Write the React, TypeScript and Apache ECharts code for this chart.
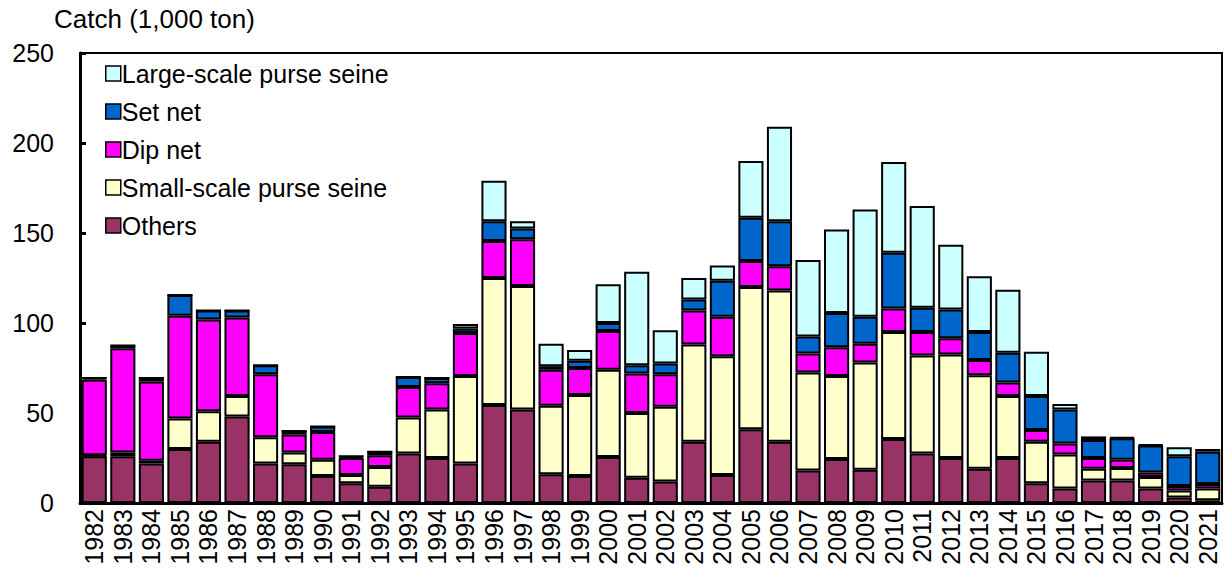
import React, { useEffect, useRef } from "react";
import * as echarts from "echarts";

const years = [
  "1982","1983","1984","1985","1986","1987","1988","1989","1990","1991",
  "1992","1993","1994","1995","1996","1997","1998","1999","2000","2001",
  "2002","2003","2004","2005","2006","2007","2008","2009","2010","2011",
  "2012","2013","2014","2015","2016","2017","2018","2019","2020","2021",
];

const others = [26, 26, 22, 30, 34, 48, 22, 21.5, 15, 11, 9, 27.5, 25, 22, 54.5, 52, 16, 15, 25.5, 14, 12, 34, 15.5, 41, 34, 18, 24.5, 18.5, 35.5, 27.5, 25, 19, 25, 11, 8, 12.5, 12.5, 8, 3, 1.5];
const smallScale = [0.5, 2, 1.5, 17, 17, 11.5, 14.5, 6.5, 9, 4.5, 11, 20, 27, 48.5, 70.5, 68.5, 38, 45, 48.5, 36, 41.5, 54, 66, 79, 84, 54.5, 46, 59.5, 59.5, 54.5, 57.5, 52, 34.5, 23, 19, 6.5, 7, 6.5, 4, 6.5];
const dipNet = [42, 58, 44, 57, 51, 43.5, 35, 10, 15.5, 9.5, 6.5, 17, 14.5, 24, 20.5, 26, 20, 15, 21.5, 22, 18, 19, 22, 14.5, 13.5, 10.5, 16, 10.5, 13, 13, 9, 8.5, 7.5, 6.5, 6, 6, 4.5, 2.5, 2.5, 2.5];
const setNet = [1, 1.5, 2, 11.5, 5, 4, 5, 2, 3, 1, 2, 5.5, 3, 2.5, 11, 6, 2, 4, 4.5, 4.5, 6, 6, 20, 24, 25, 9.5, 19, 15, 31, 13.5, 16, 15.5, 16.5, 19, 19, 10, 12, 15, 16.5, 18];
const largeScale = [0, 0, 0, 0, 0, 0, 0, 0, 0, 0, 0, 0, 0, 2.5, 22.5, 4, 12.5, 6, 21.5, 52, 18.5, 12, 8.5, 31.5, 52.5, 42.5, 46.5, 59.5, 50.5, 56.5, 36, 31, 35, 24.5, 3, 2, 0.5, 0.5, 5, 1.5];

const seriesDefs = [
  { name: "Others", data: others, color: "#993366" },
  { name: "Small-scale purse seine", data: smallScale, color: "#FFFFCC" },
  { name: "Dip net", data: dipNet, color: "#FF00FF" },
  { name: "Set net", data: setNet, color: "#0066CC" },
  { name: "Large-scale purse seine", data: largeScale, color: "#CCFFFF" },
];

const FONT = "Liberation Sans, Arial, sans-serif";

export default function App() {
  const ref = useRef<HTMLDivElement>(null);
  useEffect(() => {
    if (!ref.current) return;
    const chart = echarts.init(ref.current, null, { renderer: "svg" });
    chart.setOption({
      animation: false,
      backgroundColor: "#fff",
      title: {
        text: "Catch (1,000 ton)",
        left: 54,
        top: 6,
        padding: 0,
        textStyle: { fontFamily: FONT, fontSize: 26, fontWeight: "normal", color: "#000" },
      },
      legend: {
        orient: "vertical",
        left: 100,
        top: 56,
        itemWidth: 15,
        itemHeight: 15,
        itemGap: 13,
        icon: "rect",
        data: [
          "Large-scale purse seine",
          "Set net",
          "Dip net",
          "Small-scale purse seine",
          "Others",
        ],
        itemStyle: { borderColor: "#000", borderWidth: 1.5 },
        textStyle: { fontFamily: FONT, fontSize: 25, color: "#000", padding: [0, 0, 0, -4] },
      },
      grid: {
        left: 80,
        right: 3,
        top: 53,
        bottom: 71,
        show: true,
        borderColor: "#000",
        borderWidth: 2,
      },
      xAxis: {
        type: "category",
        data: years,
        axisLine: { lineStyle: { color: "#000", width: 3 } },
        axisTick: { show: false },
        axisLabel: {
          rotate: 90,
          interval: 0,
          margin: 6,
          fontFamily: FONT,
          fontSize: 25,
          color: "#000",
        },
      },
      yAxis: {
        type: "value",
        min: 0,
        max: 250,
        interval: 50,
        splitLine: { show: false },
        axisLine: { show: true, lineStyle: { color: "#000", width: 3 } },
        axisTick: { show: true, inside: true, length: 6, lineStyle: { color: "#000", width: 3 } },
        axisLabel: { fontFamily: FONT, fontSize: 25, color: "#000", margin: 26 },
      },
      series: seriesDefs.map((s) => ({
        name: s.name,
        type: "bar",
        stack: "total",
        data: s.data,
        barWidth: "88%",
        itemStyle: { color: s.color, borderColor: "#000", borderWidth: 2 },
      })),
    });
    return () => chart.dispose();
  }, []);
  return (
    <div
      ref={ref}
      style={{ position: "absolute", left: 0, top: 0, width: 1225, height: 574 }}
    />
  );
}
